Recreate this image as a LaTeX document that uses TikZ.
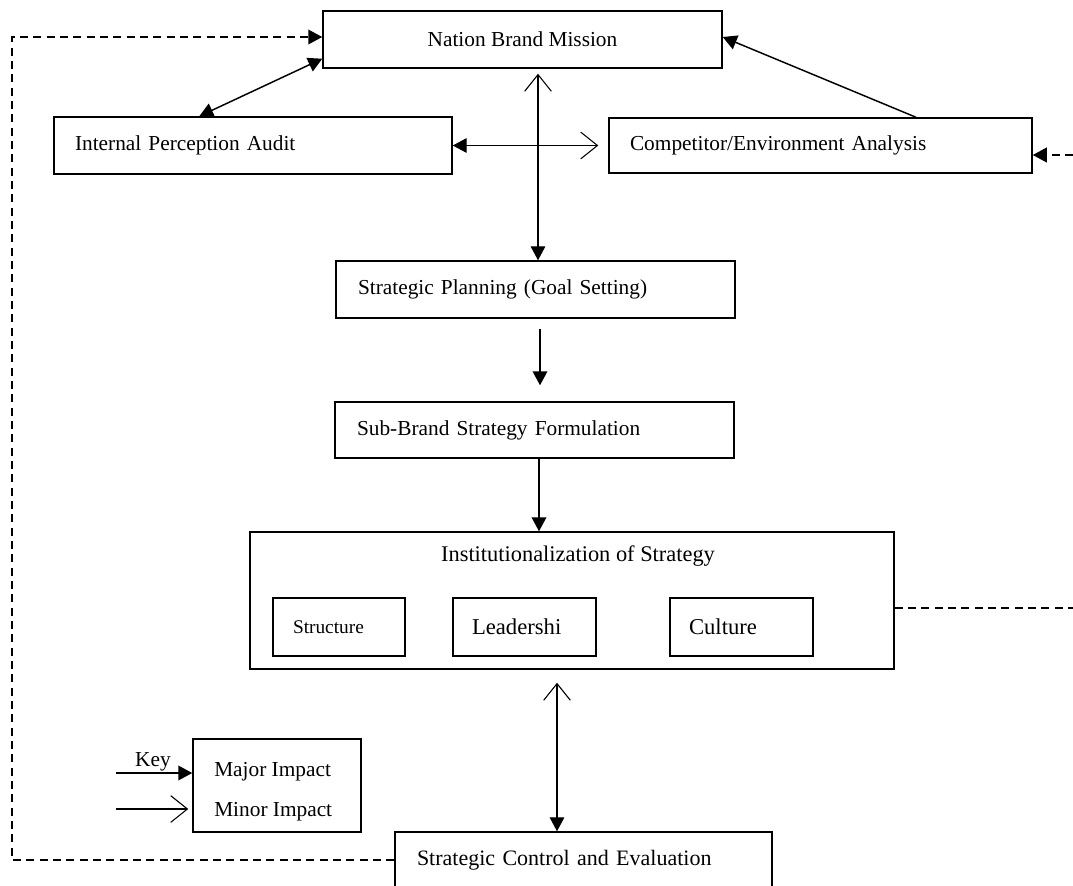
\documentclass[tikz,border=0pt]{standalone}
\usepackage{fontspec}
\setmainfont{Liberation Serif}
\usetikzlibrary{arrows.meta,calc}
\begin{document}
\begin{tikzpicture}[x=0.75pt,y=-0.75pt,
  box/.style={draw, line width=1.1pt, inner sep=0pt, font=\fontsize{16}{19}\selectfont},
  lbox/.style={box, align=left},
  txt/.style={inner sep=0pt, font=\fontsize{16}{19}\selectfont},
  ftip/.tip={Triangle[length=10.5pt,width=11pt]},
  otip/.tip={Straight Barb[length=12.5pt,width=20pt]},
  major/.style={line width=1.1pt, -ftip},
  majboth/.style={line width=1.1pt, ftip-ftip},
  fo/.style={line width=0.8pt, ftip-otip},
  of/.style={line width=0.8pt, otip-ftip},
  minor/.style={line width=0.8pt, -otip},
  dsh/.style={line width=1.1pt, dash pattern=on 6pt off 4pt}
]
\clip (0,0) rectangle (1073,885);

% nodes
\node[box, minimum width=299.25pt, minimum height=42.75pt] (nbm) at (522.5,39.5) {Nation Brand Mission};
\node[lbox, minimum height=42.75pt, inner xsep=15.75pt, text width=267pt] (ipa) at (253,145.5) {Internal Perception Audit};
\node[lbox, minimum height=41.25pt, inner xsep=15.75pt, text width=285.75pt] (cea) at (820.5,145.5) {Competitor/Environment Analysis};
\node[lbox, minimum height=42.75pt, inner xsep=16.5pt, text width=266.25pt] (spl) at (535.5,289.5) {Strategic Planning (Goal Setting)};
\node[lbox, minimum height=42pt, inner xsep=16.5pt, text width=266.25pt] (sbs) at (534.5,430) {Sub-Brand Strategy Formulation};
\node[box, minimum width=483pt, minimum height=102.75pt] (inst) at (572,600.5) {};
\node[txt, font=\fontsize{16.8}{19}\selectfont] (insttitle) at (578,556) {Institutionalization of Strategy};
\node[lbox, minimum height=43.5pt, inner xsep=15pt, text width=69pt, font=\fontsize{14.5}{17}\selectfont] (str) at (339,627) {Structure};
\node[lbox, minimum height=43.5pt, inner xsep=14.25pt, text width=78.75pt, font=\fontsize{17}{19}\selectfont] (lea) at (524.5,627) {Leadershi};
\node[lbox, minimum height=43.5pt, inner xsep=14.25pt, text width=78.75pt, font=\fontsize{17}{19}\selectfont] (cul) at (741.5,627) {Culture};
\node[box, minimum width=126pt, minimum height=69.75pt] (key) at (277,785.5) {};
\node[txt, anchor=west] (majt) at (214,772) {Major Impact};
\node[txt, anchor=west] (mint) at (214,812) {Minor Impact};
\node[txt] (keylbl) at (153,762) {Key};
\node[lbox, minimum height=42pt, inner xsep=16.5pt, text width=249.75pt, font=\fontsize{16.5}{19}\selectfont] (sce) at (583.5,860) {Strategic Control and Evaluation};

% free ends
\coordinate (c1) at (12,860);
\coordinate (c2) at (12,37);
\coordinate (rd) at (1073,608);
\coordinate (rc) at (1073,155);
\coordinate (k1) at (116,773);
\coordinate (k2) at (116,809);

% connectors
\draw[dsh, -ftip] (sce.west) -- (c1) -- (c2) -- (nbm.west |- c2);
\draw[majboth] ($(nbm.south west)+(0,-10)$) -- ($(ipa.north west)+(146,0)$);
\draw[major] ($(cea.north)+(95.5,0)$) -- ($(nbm.east)+(0,-2.5)$);
\draw[fo] (ipa.east) -- ($(cea.west)+(-10,0)$);
\draw[of] ($(nbm.south)+(15.5,5)$) -- ($(spl.north)+(2.5,0)$);
\draw[major] ($(spl.south)+(4.5,10)$) -- ($(sbs.north)+(5.5,-16)$);
\draw[major] ($(sbs.south)+(4.5,0)$) -- ($(inst.north)+(-33,0)$);
\draw[of] ($(inst.south)+(-15,13)$) -- ($(sce.north)+(-26.5,0)$);
\draw[dsh] ($(inst.east)+(0,7.5)$) -- (rd);
\draw[dsh, -ftip] (rc) -- (cea.east |- rc);
\draw[major] (k1) -- (key.west |- k1);
\draw[minor] (k2) -- ($(key.west |- k2)+(-4,0)$);
\end{tikzpicture}
\end{document}
